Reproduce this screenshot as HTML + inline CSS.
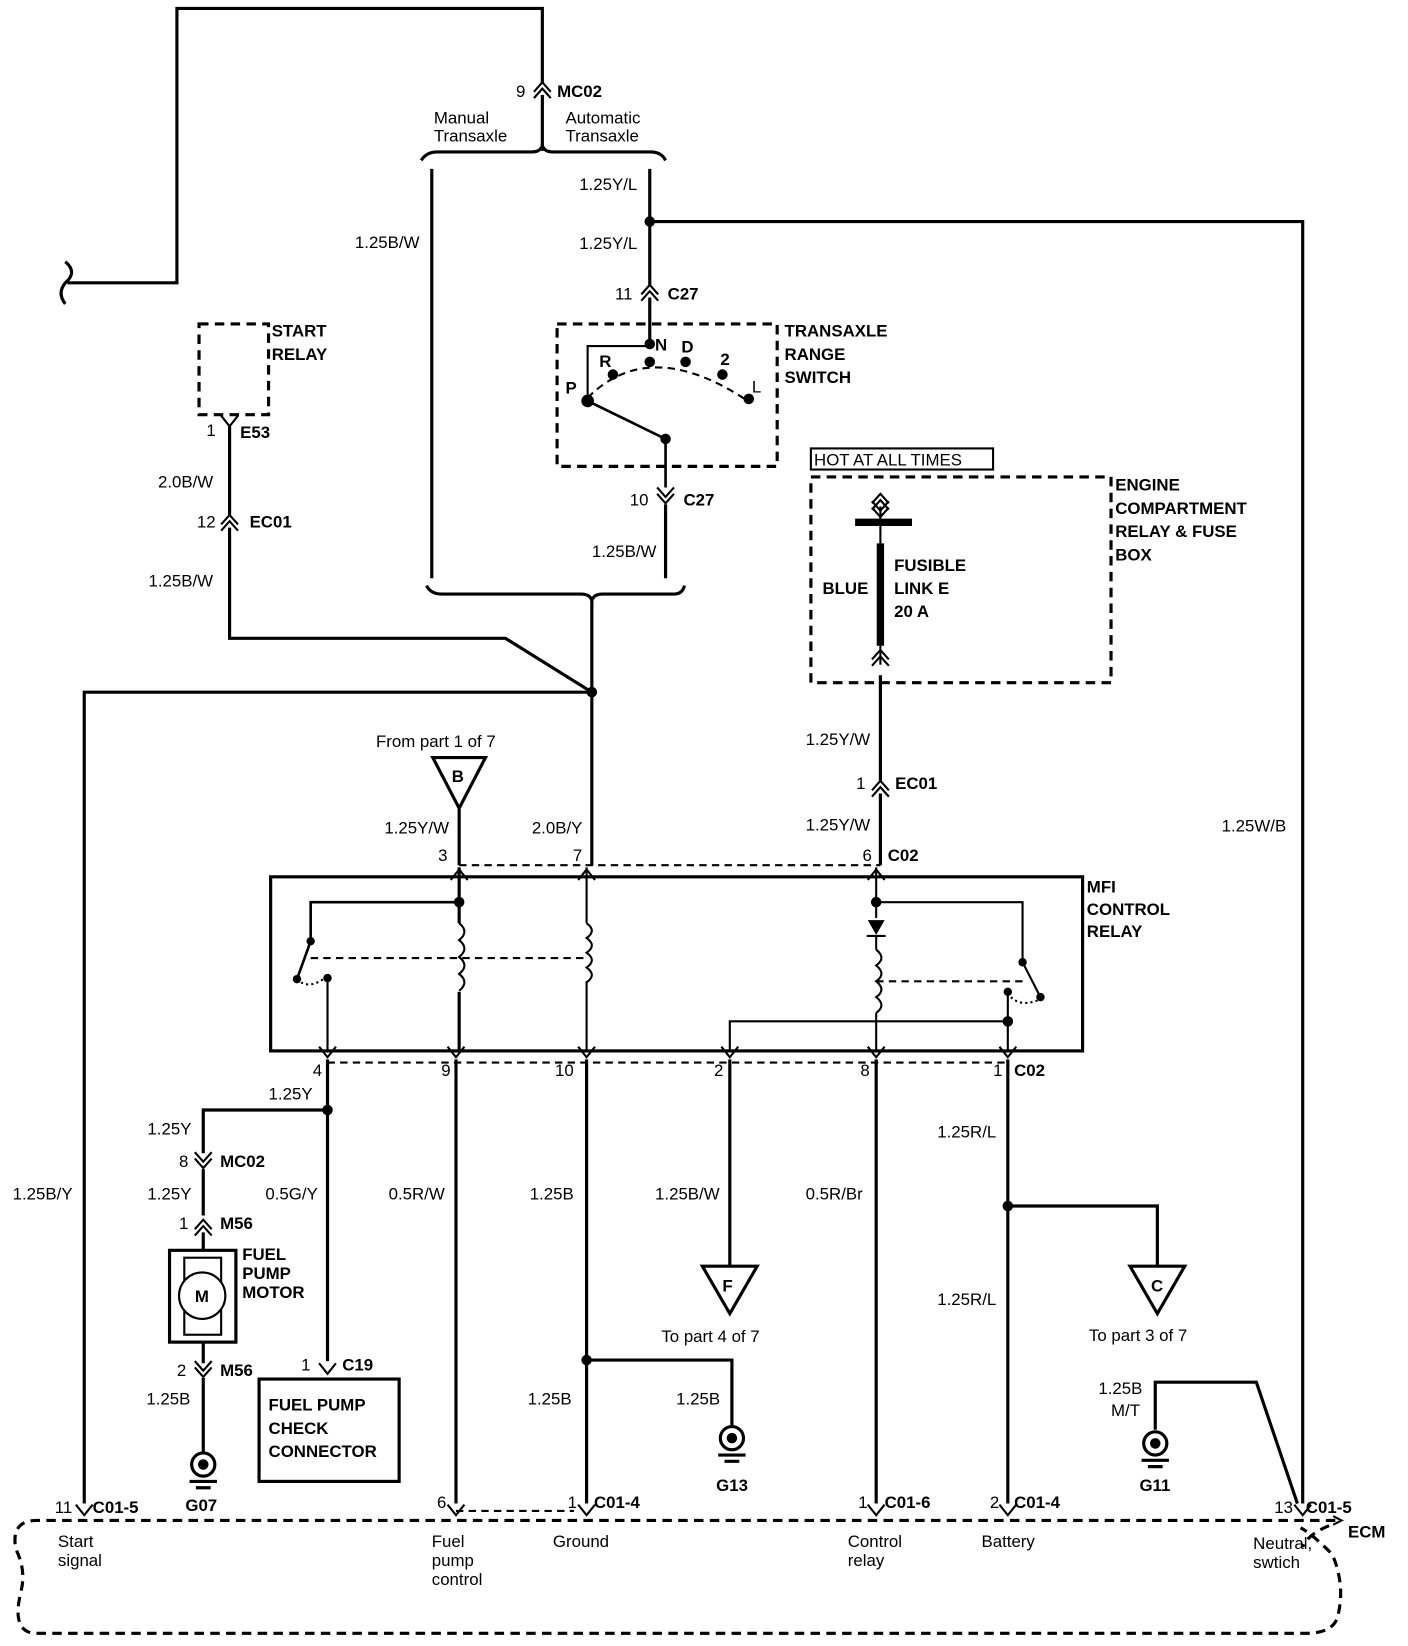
<!DOCTYPE html>
<html><head><meta charset="utf-8"><style>
html,body{margin:0;padding:0;background:#fff}
svg{display:block}
text{font-family:"Liberation Sans",Arial,sans-serif;font-size:16px;fill:#000}
.b{font-weight:bold}
</style></head><body>
<svg width="1408" height="1646" viewBox="0 0 1337 1560" preserveAspectRatio="none" xmlns="http://www.w3.org/2000/svg">
<defs>
<g id="up"><path d="M-8,7 L0,-2 L8,7 M-8,13 L0,4 L8,13" fill="none" stroke="#000" stroke-width="2"/></g>
<g id="dn"><path d="M-8,-7 L0,2 L8,-7 M-8,-13 L0,-4 L8,-13" fill="none" stroke="#000" stroke-width="2"/></g>
<g id="pu"><path d="M-8,8 L0,-2 L8,8" fill="none" stroke="#000" stroke-width="2"/></g>
<g id="pd"><path d="M-8,-8 L0,2 L8,-8" fill="none" stroke="#000" stroke-width="2"/></g>
<g id="gnd"><circle cx="0" cy="0" r="11" fill="none" stroke="#000" stroke-width="3"/><circle cx="0" cy="0" r="5"/><path d="M-13,16 H13 M-7,22 H7" stroke="#000" stroke-width="3"/></g>
</defs>
<g fill="none" stroke="#000" stroke-width="3">
<path d="M62,268 q12,-10 0,-20 M62,268 q-8,10 0,20"/>
<path d="M64,268 H168 V8 H515 V78"/>
<path d="M515,90 V143"/>
<path d="M400,152 q5,-8 15,-8 H505 q8,0 10,-6 q2,6 10,6 H618 q10,0 14,8"/>
<path d="M410,160 V548"/>
<path d="M617,160 V270"/>
<path d="M617,210 H1237 V1425"/>
<path d="M617,282 V325"/>
<path d="M617,328 H558 V377" stroke-width="2"/>
<path d="M558,380 L632,416 V462" stroke-width="2.5"/>
<path d="M632,478 V548"/>
<path d="M405,555 q4,8 14,8 H552 q8,0 10,6 q2,-6 10,-6 H640 q8,0 10,-8"/>
<path d="M562,569 V820"/>
<path d="M218,404 V488 M218,500 V605 H480 L562,656 H80 V1425"/>
<path d="M836,640 V740 M836,752 V820"/>
<path d="M812,495 H866" stroke-width="7"/>
<path d="M836,515 V612" stroke-width="7"/>
<path d="M836,480 V515 M836,612 V630" stroke-width="2"/>
<path d="M436,766 V820"/>
<rect x="257" y="831" width="771" height="165"/>
<path d="M436,822 V875 M436,940 V996"/>
<path d="M436,875 q10,8 0,16 q10,8 0,16 q10,8 0,16 q10,8 0,16" stroke-width="2"/>
<path d="M436,855 H295 V892 L282,928" stroke-width="2.5"/>
<path d="M311,927 V996" stroke-width="2"/>
<path d="M282,928 q10,10 25,0" stroke-width="2" stroke-dasharray="2,3"/>
<path d="M557,822 V875 M557,930 V996" stroke-width="2"/>
<path d="M557,875 q10,7 0,14 q10,7 0,14 q10,7 0,14 q10,7 0,14" stroke-width="2"/>
<path d="M832,822 V870 M832,888 V900 M832,960 V996" stroke-width="2"/>
<path d="M832,900 q10,8 0,15 q10,8 0,15 q10,8 0,15 q10,8 0,15" stroke-width="2"/>
<path d="M832,855 H971 V912 L988,945" stroke-width="2"/>
<path d="M957,940 V996 M693,996 V968 H957" stroke-width="2"/>
<path d="M960,945 q10,10 28,2" stroke-width="2" stroke-dasharray="2,3"/>
<path d="M311,1004 V1290 M311,1052 H193 V1093 M193,1108 V1152 M193,1168 V1185 M193,1272 V1292 M193,1306 V1377"/>
<path d="M433,1004 V1425"/>
<path d="M557,1004 V1425 M557,1289 H695 V1352"/>
<path d="M693,1004 V1200"/>
<path d="M832,1004 V1425"/>
<path d="M957,1004 V1425 M957,1143 H1099 V1200"/>
<path d="M1097,1355 V1310 H1193 L1232,1425"/>
<rect x="161" y="1185" width="63" height="87"/>
<rect x="246" y="1307" width="133" height="97"/>
<path d="M411,718 H461 L436,766 Z"/>
<path d="M667,1200 H719 L693,1245 Z"/>
<path d="M1073,1200 H1125 L1099,1245 Z"/>
<rect x="770" y="425" width="173" height="20" stroke-width="2"/>
<path d="M1266,1445 L1274,1441 L1266,1437" stroke-width="2"/>
</g>
<g fill="none" stroke="#000" stroke-width="2">
<rect x="175" y="1192" width="35" height="73"/>
<circle cx="192" cy="1228" r="22" fill="#fff"/>
</g>
<g fill="none" stroke="#000" stroke-width="3" stroke-dasharray="9,6">
<rect x="189" y="307" width="66" height="86"/>
<rect x="529" y="307" width="209" height="135"/>
<rect x="770" y="452" width="285" height="195"/>
<path d="M1268,1441 H35 q-25,0 -20,27 q10,20 5,40 q-10,40 15,40 H1240 q25,0 30,-15 q8,-30 -5,-60 q-20,-20 -30,-25"/>
<path d="M1262,1446 q-20,8 -25,20"/>
</g>
<g fill="none" stroke="#000" stroke-width="2" stroke-dasharray="7,5">
<path d="M436,820 H836"/>
<path d="M295,908 H557"/>
<path d="M832,930 H971"/>
<path d="M311,1007 H957"/>
<path d="M433,1432 H545"/>
<path d="M558,377 q60,-60 155,5"/>
</g>
<g>
<circle cx="617" cy="210" r="5"/><circle cx="562" cy="656" r="5"/>
<circle cx="617" cy="326" r="5"/><circle cx="617" cy="343" r="5"/><circle cx="582" cy="355" r="5"/><circle cx="651" cy="343" r="5"/><circle cx="686" cy="355" r="5"/><circle cx="711" cy="378" r="5"/><circle cx="558" cy="380" r="6"/><circle cx="632" cy="416" r="5"/>
<circle cx="436" cy="855" r="5"/><circle cx="295" cy="892" r="4"/><circle cx="282" cy="928" r="4"/><circle cx="311" cy="927" r="4"/>
<circle cx="832" cy="855" r="5"/><circle cx="971" cy="912" r="4"/><circle cx="988" cy="945" r="4"/><circle cx="957" cy="940" r="4"/><circle cx="957" cy="968" r="5"/>
<circle cx="311" cy="1052" r="5"/><circle cx="557" cy="1289" r="5"/><circle cx="957" cy="1143" r="5"/>
<path d="M824,872 H840 L832,886 Z"/><path d="M823,887 H841" stroke="#000" stroke-width="2"/>
</g>
<use href="#up" x="515" y="80"/><use href="#up" x="617" y="272"/><use href="#dn" x="632" y="475"/>
<use href="#pd" x="218" y="402"/><use href="#up" x="218" y="490"/>
<use href="#up" x="836" y="470"/><use href="#dn" x="836" y="488"/>
<use href="#up" x="836" y="618"/><use href="#up" x="836" y="742"/>
<use href="#pu" x="436" y="826"/><use href="#pu" x="557" y="826"/><use href="#pu" x="832" y="826"/>
<use href="#pd" x="311" y="1000"/><use href="#pd" x="433" y="1000"/><use href="#pd" x="557" y="1000"/><use href="#pd" x="693" y="1000"/><use href="#pd" x="832" y="1000"/><use href="#pd" x="957" y="1000"/>
<use href="#dn" x="193" y="1105"/><use href="#up" x="193" y="1158"/><use href="#dn" x="193" y="1303"/><use href="#pd" x="311" y="1300"/>
<use href="#pd" x="80" y="1434"/><use href="#pd" x="433" y="1434"/><use href="#pd" x="557" y="1434"/><use href="#pd" x="832" y="1434"/><use href="#pd" x="957" y="1434"/><use href="#pd" x="1237" y="1434"/>
<use href="#gnd" x="193" y="1388"/><use href="#gnd" x="695" y="1363"/><use href="#gnd" x="1097" y="1368"/>
<text x="490" y="92">9</text><text x="529" y="92" class="b">MC02</text>
<text x="412" y="117">Manual</text><text x="412" y="134">Transaxle</text>
<text x="537" y="117">Automatic</text><text x="537" y="134">Transaxle</text>
<text x="550" y="180">1.25Y/L</text><text x="550" y="236">1.25Y/L</text>
<text x="337" y="235">1.25B/W</text>
<text x="584" y="284">11</text><text x="634" y="284" class="b">C27</text>
<text x="745" y="319" class="b">TRANSAXLE</text><text x="745" y="341" class="b">RANGE</text><text x="745" y="363" class="b">SWITCH</text>
<text x="622" y="332" class="b">N</text><text x="647" y="334" class="b">D</text><text x="569" y="348" class="b">R</text><text x="684" y="346" class="b">2</text><text x="714" y="372">L</text><text x="537" y="373" class="b">P</text>
<text x="598" y="479">10</text><text x="649" y="479" class="b">C27</text>
<text x="562" y="528">1.25B/W</text>
<text x="258" y="319" class="b">START</text><text x="258" y="341" class="b">RELAY</text>
<text x="196" y="413">1</text><text x="228" y="415" class="b">E53</text>
<text x="150" y="462">2.0B/W</text>
<text x="187" y="500">12</text><text x="237" y="500" class="b">EC01</text>
<text x="141" y="556">1.25B/W</text>
<text x="773" y="441">HOT AT ALL TIMES</text>
<text x="1059" y="465" class="b">ENGINE</text><text x="1059" y="487" class="b">COMPARTMENT</text><text x="1059" y="509" class="b">RELAY &amp; FUSE</text><text x="1059" y="531" class="b">BOX</text>
<text x="849" y="541" class="b">FUSIBLE</text><text x="849" y="563" class="b">LINK E</text><text x="849" y="585" class="b">20 A</text>
<text x="781" y="563" class="b">BLUE</text>
<text x="765" y="706">1.25Y/W</text>
<text x="813" y="748">1</text><text x="850" y="748" class="b">EC01</text>
<text x="765" y="787">1.25Y/W</text>
<text x="819" y="816">6</text><text x="843" y="816" class="b">C02</text>
<text x="1160" y="788">1.25W/B</text>
<text x="357" y="708">From  part 1 of 7</text>
<text x="429" y="741" class="b" font-size="15">B</text>
<text x="365" y="790">1.25Y/W</text><text x="505" y="790">2.0B/Y</text>
<text x="416" y="816">3</text><text x="544" y="816">7</text>
<text x="1032" y="846" class="b">MFI</text><text x="1032" y="867" class="b">CONTROL</text><text x="1032" y="888" class="b">RELAY</text>
<text x="297" y="1020">4</text><text x="419" y="1020">9</text><text x="527" y="1020">10</text><text x="678" y="1020">2</text><text x="817" y="1020">8</text><text x="943" y="1020">1</text><text x="963" y="1020" class="b">C02</text>
<text x="255" y="1042">1.25Y</text><text x="140" y="1075">1.25Y</text>
<text x="170" y="1106">8</text><text x="209" y="1106" class="b">MC02</text>
<text x="12" y="1137">1.25B/Y</text><text x="140" y="1137">1.25Y</text><text x="252" y="1137">0.5G/Y</text><text x="369" y="1137">0.5R/W</text><text x="503" y="1137">1.25B</text><text x="622" y="1137">1.25B/W</text><text x="765" y="1137">0.5R/Br</text>
<text x="890" y="1078">1.25R/L</text><text x="890" y="1237">1.25R/L</text>
<text x="170" y="1165">1</text><text x="209" y="1165" class="b">M56</text>
<text x="230" y="1194" class="b">FUEL</text><text x="230" y="1212" class="b">PUMP</text><text x="230" y="1230" class="b">MOTOR</text>
<text x="185" y="1234" class="b">M</text>
<text x="686" y="1224" class="b" font-size="15">F</text><text x="1093" y="1224" class="b" font-size="15">C</text>
<text x="628" y="1272">To  part 4 of 7</text><text x="1034" y="1271">To  part 3 of 7</text>
<text x="168" y="1304">2</text><text x="209" y="1304" class="b">M56</text>
<text x="286" y="1299">1</text><text x="325" y="1299" class="b">C19</text>
<text x="139" y="1331">1.25B</text><text x="501" y="1331">1.25B</text><text x="642" y="1331">1.25B</text>
<text x="1043" y="1321">1.25B</text><text x="1055" y="1342">M/T</text>
<text x="255" y="1337" class="b">FUEL PUMP</text><text x="255" y="1359" class="b">CHECK</text><text x="255" y="1381" class="b">CONNECTOR</text>
<text x="176" y="1432" class="b">G07</text><text x="680" y="1413" class="b">G13</text><text x="1082" y="1413" class="b">G11</text>
<text x="52" y="1434">11</text><text x="88" y="1434" class="b">C01-5</text>
<text x="415" y="1429">6</text><text x="539" y="1429">1</text><text x="564" y="1429" class="b">C01-4</text>
<text x="815" y="1429">1</text><text x="840" y="1429" class="b">C01-6</text>
<text x="940" y="1429">2</text><text x="963" y="1429" class="b">C01-4</text>
<text x="1210" y="1434">13</text><text x="1240" y="1434" class="b">C01-5</text>
<text x="1280" y="1457" class="b">ECM</text>
<text x="55" y="1466">Start</text><text x="55" y="1484">signal</text>
<text x="410" y="1466">Fuel</text><text x="410" y="1484">pump</text><text x="410" y="1502">control</text>
<text x="525" y="1466">Ground</text>
<text x="805" y="1466">Control</text><text x="805" y="1484">relay</text>
<text x="932" y="1466">Battery</text>
<text x="1190" y="1468">Neutral,</text><text x="1190" y="1486">swtich</text>
</svg>
</body></html>
